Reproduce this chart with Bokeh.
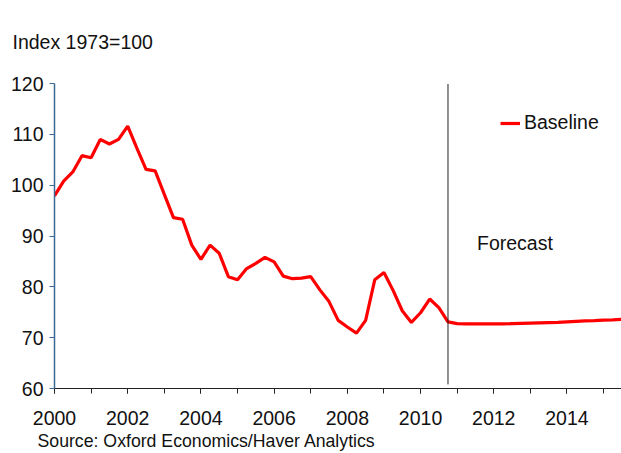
from bokeh.plotting import figure
from bokeh.models import (ColumnDataSource, Range1d, FixedTicker, Legend, LegendItem,
                          Label, Title)
from bokeh.embed import file_html
from bokeh.resources import INLINE

# Quarterly index, 1973=100, starting 2000 Q1
start_year = 2000
history = [97.9, 100.8, 102.6, 105.8, 105.4, 109.0, 108.1, 109.0, 111.6, 107.3,
           103.1, 102.8, 98.2, 93.6, 93.3, 88.2, 85.4, 88.2, 86.6, 82.0,
           81.4, 83.6, 84.6, 85.8, 84.9, 82.1, 81.6, 81.7, 82.0, 79.4,
           77.1, 73.4, 72.1, 70.9, 73.4, 81.4, 82.8, 79.3, 75.3, 73.0,
           74.9, 77.6, 75.9, 73.1]
forecast = [72.75, 72.7, 72.7, 72.7, 72.7, 72.7, 72.75, 72.8, 72.85, 72.9,
            72.95, 73.0, 73.1, 73.2, 73.3, 73.35, 73.45, 73.5, 73.6]
baseline = history + forecast
quarters = [start_year + i * 0.25 for i in range(len(baseline))]

forecast_start = 2010.75
y_ticks = [60, 70, 80, 90, 100, 110, 120]
x_ticks = [2000, 2002, 2004, 2006, 2008, 2010, 2012, 2014]

FONT = "Liberation Sans"
FS = "19.5px"

p = figure(width=621, height=453, output_backend="svg", toolbar_location=None,
           x_range=Range1d(2000, 2015.49), y_range=Range1d(60, 120),
           min_border_left=54, min_border_right=0, min_border_top=83,
           min_border_bottom=65)
p.background_fill_color = "white"
p.border_fill_color = "white"
p.outline_line_color = None
p.grid.grid_line_color = None

src = ColumnDataSource(dict(x=quarters, y=baseline))
r = p.line("x", "y", source=src, line_color="#ff0000", line_width=3.2)

# forecast divider
p.segment(x0=[forecast_start], y0=[60.8], x1=[forecast_start], y1=[119.9],
          line_color="#222222", line_width=1)

p.add_layout(Label(x=forecast_start, y=88.6, x_offset=29, text="Forecast",
                   text_font=FONT, text_font_size=FS, text_color="#111111",
                   text_baseline="middle"))

# axes
yax = p.yaxis[0]
yax.ticker = FixedTicker(ticks=y_ticks)
yax.axis_line_color = "#3a6a94"
yax.axis_line_width = 1.5
yax.major_tick_line_color = "#3a6a94"
yax.major_tick_in = 0
yax.major_tick_out = 5
yax.minor_tick_line_color = None
yax.major_label_text_font = FONT
yax.major_label_text_font_size = FS
yax.major_label_text_color = "#111111"
yax.major_label_standoff = 6

xax = p.xaxis[0]
xax.ticker = FixedTicker(ticks=x_ticks, minor_ticks=list(range(2000, 2016)))
xax.axis_line_color = "#222222"
xax.axis_line_width = 1.2
xax.major_tick_line_color = "#222222"
xax.minor_tick_line_color = "#222222"
xax.major_tick_in = 0
xax.major_tick_out = 5
xax.minor_tick_in = 0
xax.minor_tick_out = 5
xax.major_label_text_font = FONT
xax.major_label_text_font_size = FS
xax.major_label_text_color = "#111111"
xax.major_label_standoff = 17

# texts above and below the plot area
p.add_layout(Title(text="Index 1973=100", align="left", offset=-42,
                   vertical_align="top", standoff=57,
                   text_font=FONT, text_font_size=FS,
                   text_font_style="normal", text_color="#111111"), "above")
p.add_layout(Title(text="Source: Oxford Economics/Haver Analytics", align="left",
                   offset=-17, standoff=3, text_font=FONT, text_font_size="17.7px",
                   text_font_style="normal", text_color="#111111"), "below")

legend = Legend(items=[LegendItem(label="Baseline", renderers=[r])],
                location=(446, 254), padding=0, margin=0, spacing=0,
                glyph_width=20, label_standoff=4,
                label_text_font=FONT, label_text_font_size=FS,
                label_text_color="#111111",
                border_line_color=None, background_fill_alpha=0)
p.add_layout(legend)

open("out.html", "w").write(file_html(p, INLINE))
